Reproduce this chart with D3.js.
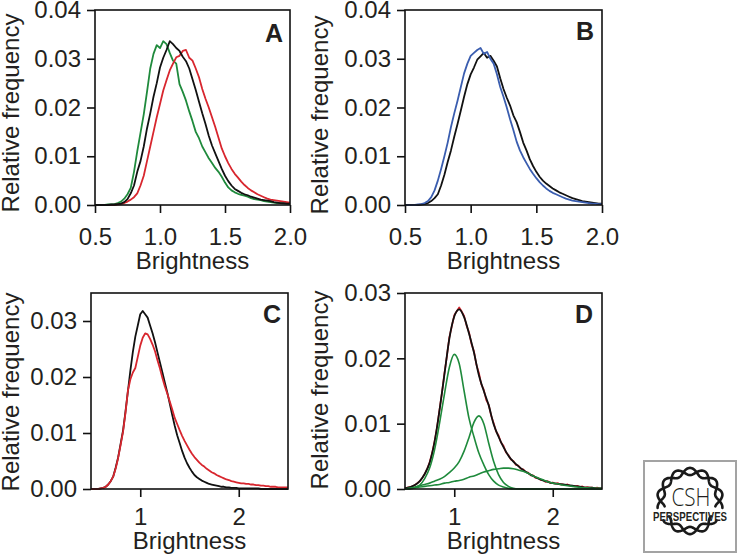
<!DOCTYPE html>
<html>
<head>
<meta charset="utf-8">
<script src="https://cdn.jsdelivr.net/npm/d3@7"></script>
<style>
  html, body { margin: 0; padding: 0; background: #fff; }
  svg { display: block; }
  text { font-family: "Liberation Sans", Arial, Helvetica, sans-serif; fill: #231f20; }
</style>
</head>
<body>
<svg id="chart" width="744" height="559"></svg>
<script>
// ---------------- DATA ----------------
// Bin grids (brightness values)
const binsAB = d3.range(0, 61).map(i => +(0.5 + i * 0.025).toFixed(3));   // 0.5 .. 2.0
const binsCD = d3.range(0, 81).map(i => +(0.5 + i * 0.025).toFixed(3));   // 0.5 .. 2.5
const fitBins = d3.range(0, 41).map(i => +(0.5 + i * 0.05).toFixed(2));   // 0.5 .. 2.5

// Panel A
const aBlack = [0,0,0,0,0.0000,0.0001,0.0001,0.0002,0.0003,0.0006,0.0012,0.0024,0.0040,0.0068,0.0090,0.0120,0.0157,0.0188,0.0222,0.0250,
  0.0282,0.0302,0.0318,0.0336,0.0330,0.0322,0.0316,0.0304,0.0295,0.0280,0.0258,0.0236,0.0212,0.0188,0.0166,0.0142,0.0122,0.0106,0.0090,0.0074,
  0.0060,0.0049,0.0040,0.0033,0.0029,0.0025,0.0022,0.0020,0.0017,0.0015,0.0013,0.0011,0.0010,0.0009,0.0008,0.0006,0.0005,0.0004,0.0004,0.0003,0.0003];
const aRed = [0,0,0,0,0,0,0,0.0001,0.0002,0.0004,0.0007,0.0011,0.0016,0.0024,0.0040,0.0060,0.0090,0.0120,0.0150,0.0180,
  0.0207,0.0235,0.0256,0.0276,0.0290,0.0303,0.0306,0.0316,0.0318,0.0302,0.0296,0.0280,0.0262,0.0238,0.0218,0.0200,0.0180,0.0160,0.0138,0.0116,
  0.0100,0.0086,0.0074,0.0064,0.0056,0.0048,0.0041,0.0035,0.0030,0.0026,0.0022,0.0019,0.0016,0.0013,0.0011,0.0010,0.0009,0.0008,0.0007,0.0006,0.0005];
const aGreen = [0,0,0,0,0.0001,0.0001,0.0002,0.0004,0.0007,0.0013,0.0022,0.0035,0.0068,0.0110,0.0148,0.0186,0.0232,0.0280,0.0310,0.0328,
  0.0322,0.0336,0.0330,0.0312,0.0296,0.0290,0.0248,0.0232,0.0214,0.0192,0.0172,0.0150,0.0137,0.0120,0.0108,0.0096,0.0086,0.0076,0.0068,0.0058,
  0.0046,0.0036,0.0030,0.0026,0.0023,0.0021,0.0019,0.0017,0.0014,0.0012,0.0011,0.0010,0.0008,0.0007,0.0006,0.0005,0.0004,0.0004,0.0003,0.0003,0.0002];

// Panel B
const bBlack = [0,0,0,0,0,0.0001,0.0002,0.0004,0.0008,0.0014,0.0022,0.0040,0.0062,0.0088,0.0112,0.0140,0.0166,0.0194,0.0222,0.0248,
  0.0268,0.0282,0.0298,0.0305,0.0312,0.0302,0.0306,0.0296,0.0284,0.0260,0.0238,0.0220,0.0204,0.0184,0.0170,0.0150,0.0128,0.0112,0.0094,0.0080,
  0.0068,0.0058,0.0050,0.0044,0.0039,0.0034,0.0030,0.0026,0.0023,0.0020,0.0017,0.0014,0.0012,0.0010,0.0008,0.0007,0.0006,0.0005,0.0004,0.0003,0.0003];
const bBlue = [0,0,0,0,0.0001,0.0002,0.0004,0.0008,0.0016,0.0030,0.0050,0.0074,0.0100,0.0128,0.0160,0.0188,0.0214,0.0242,0.0270,0.0290,
  0.0306,0.0312,0.0318,0.0322,0.0310,0.0314,0.0300,0.0290,0.0268,0.0242,0.0222,0.0200,0.0176,0.0154,0.0130,0.0112,0.0098,0.0086,0.0074,0.0064,
  0.0055,0.0047,0.0040,0.0034,0.0029,0.0025,0.0022,0.0019,0.0016,0.0013,0.0011,0.0009,0.0008,0.0007,0.0006,0.0005,0.0004,0.0003,0.0003,0.0002,0.0002];

// Panel C
const cBlack = [0,0,0,0,0.0001,0.0002,0.0004,0.0008,0.0014,0.0022,0.0038,0.0056,0.0080,0.0104,0.0138,0.0175,0.0212,0.0245,0.0272,0.0292,
  0.0312,0.0318,0.0312,0.0306,0.0292,0.0278,0.0262,0.0244,0.0226,0.0208,0.0190,0.0172,0.0152,0.0132,0.0113,0.0096,0.0082,0.0068,0.0056,0.0046,
  0.0038,0.0031,0.0025,0.0021,0.0018,0.0015,0.0013,0.0011,0.0009,0.0008,0.0007,0.0006,0.0005,0.0004,0.0004,0.0003,0.0003,0.0002,0.0002,0.0002,
  0.0001,0.0001,0.0001,0.0001,0.0001,0.0001,0.0001,0.0001,0.0001,0,0,0,0,0,0,0,0,0,0,0,0];
const cRed = [0,0,0,0,0.0001,0.0002,0.0004,0.0008,0.0014,0.0022,0.0036,0.0055,0.0078,0.0102,0.0136,0.0176,0.0196,0.0208,0.0216,0.0236,
  0.0256,0.0270,0.0278,0.0276,0.0268,0.0258,0.0246,0.0230,0.0215,0.0198,0.0183,0.0170,0.0156,0.0142,0.0127,0.0116,0.0105,0.0095,0.0086,0.0078,
  0.0070,0.0063,0.0057,0.0052,0.0047,0.0043,0.0040,0.0036,0.0033,0.0030,0.0028,0.0025,0.0023,0.0021,0.0019,0.0017,0.0016,0.0014,0.0013,0.0012,
  0.0011,0.0010,0.0010,0.0009,0.0009,0.0008,0.0008,0.0007,0.0007,0.0006,0.0006,0.0005,0.0005,0.0004,0.0004,0.0004,0.0003,0.0003,0.0003,0.0003,0.0003];

// Panel D: measured histogram (red), fitted total (black), three fitted components (green)
const dRed = [0.0001,0.0002,0.0003,0.0004,0.0006,0.0009,0.0012,0.0017,0.0023,0.0031,0.0041,0.0055,0.0073,0.0094,0.0121,0.0147,0.0177,0.0203,0.0232,0.0249,
  0.0266,0.0272,0.0278,0.0272,0.0265,0.0250,0.0240,0.0222,0.0211,0.0190,0.0178,0.0160,0.0152,0.0136,0.0129,0.0112,0.0101,0.0088,0.0082,0.0071,
  0.0066,0.0056,0.0052,0.0045,0.0043,0.0037,0.0036,0.0031,0.0030,0.0026,0.0025,0.0021,0.0021,0.0017,0.0017,0.0014,0.0014,0.0011,0.0012,0.0009,
  0.0010,0.0008,0.0009,0.0007,0.0007,0.0006,0.0007,0.0005,0.0005,0.0004,0.0005,0.0003,0.0004,0.0002,0.0003,0.0002,0.0002,0.0001,0.0002,0.0001,0.0001];
const dFit = [0.0001,0.0003,0.0006,0.0012,0.0023,0.0040,0.0072,0.0120,0.0175,0.0230,0.0264,0.0275,0.0263,0.0238,0.0209,0.0174,0.0150,0.0128,0.0099,0.0080,
  0.0064,0.0051,0.0042,0.0035,0.0029,0.0024,0.0020,0.0016,0.0013,0.0011,0.0009,0.0008,0.0007,0.0006,0.0005,0.0004,0.0003,0.0002,0.0002,0.0001,0.0001];
const dComp1 = [0,0,0.0002,0.0006,0.0016,0.0032,0.0060,0.0100,0.0145,0.0186,0.0206,0.0192,0.0150,0.0108,0.0080,0.0055,0.0037,0.0022,0.0012,0.0006,
  0.0003,0.0001,0,0,0,0,0,0,0,0,0,0,0,0,0,0,0,0,0,0,0];
const dComp2 = [0,0.0001,0.0003,0.0005,0.0007,0.0009,0.0012,0.0015,0.0019,0.0025,0.0032,0.0042,0.0058,0.0079,0.0102,0.0112,0.0100,0.0070,0.0042,0.0022,
  0.0010,0.0004,0.0001,0,0,0,0,0,0,0,0,0,0,0,0,0,0,0,0,0,0];
const dComp3 = [0,0.0001,0.0002,0.0003,0.0004,0.0005,0.0006,0.0007,0.0009,0.0010,0.0012,0.0013,0.0015,0.0018,0.0020,0.0023,0.0026,0.0028,0.0030,0.0031,
  0.0032,0.0032,0.0031,0.0029,0.0027,0.0024,0.0020,0.0017,0.0014,0.0011,0.0009,0.0008,0.0006,0.0005,0.0004,0.0003,0.0002,0.0002,0.0001,0.0001,0.0001];

// Tick labels
const yTicksAB = [0, 0.01, 0.02, 0.03, 0.04];
const yTicksC = [0, 0.01, 0.02, 0.03];
const yTicksD = [0, 0.01, 0.02, 0.03];
const xTicksAB = [0.5, 1.0, 1.5, 2.0];
const xTicksCD = [1, 2];

// ---------------- DRAWING ----------------
const COLORS = { black: "#111111", red: "#d8262e", green: "#1f8a3c", blue: "#3a5daf" };
const svg = d3.select("#chart");

function panel(cfg) {
  const x = d3.scaleLinear().domain(cfg.xDomain).range([cfg.left, cfg.right]);
  const y = d3.scaleLinear().domain(cfg.yDomain).range([cfg.bottom, cfg.top]);
  const g = svg.append("g");

  cfg.series.forEach(s => {
    const pts = s.xs.map((v, i) => [v, s.ys[i]]);
    const line = d3.line().x(d => x(d[0])).y(d => y(d[1]))
      .curve(s.smooth ? d3.curveMonotoneX : d3.curveLinear);
    g.append("path").datum(pts)
      .attr("fill", "none").attr("stroke", s.color)
      .attr("stroke-width", s.width || 1.8).attr("stroke-linejoin", "round")
      .attr("d", line);
  });

  g.append("rect").attr("x", cfg.left).attr("y", cfg.top)
    .attr("width", cfg.right - cfg.left).attr("height", cfg.bottom - cfg.top)
    .attr("fill", "none").attr("stroke", "#111").attr("stroke-width", 1.6);

  const yAxis = d3.axisLeft(y).tickValues(cfg.yTicks).tickSize(8).tickPadding(6)
    .tickFormat(d3.format(".2f"));
  const ya = g.append("g").attr("transform", `translate(${cfg.left},0)`).call(yAxis);
  const xAxis = d3.axisBottom(x).tickValues(cfg.xTicks).tickSize(8).tickPadding(cfg.xPad)
    .tickFormat(cfg.xFormat);
  const xa = g.append("g").attr("transform", `translate(0,${cfg.bottom})`).call(xAxis);
  [ya, xa].forEach(a => {
    a.select(".domain").remove();
    a.selectAll(".tick line").attr("stroke", "#111").attr("stroke-width", 1.6);
    a.selectAll(".tick text").attr("font-size", 24).attr("fill", "#231f20")
      .attr("font-family", '"Liberation Sans", Arial, sans-serif');
  });

  g.append("text").attr("x", (cfg.left + cfg.right) / 2).attr("y", cfg.xTitleY)
    .attr("text-anchor", "middle").attr("font-size", 24).text("Brightness");
  g.append("text").attr("transform", `translate(${cfg.yTitleX},${cfg.yTitleMid}) rotate(-90)`)
    .attr("text-anchor", "middle").attr("font-size", 24).text("Relative frequency");

  g.append("text").attr("x", cfg.letterX).attr("y", cfg.letterY)
    .attr("text-anchor", "end").attr("font-size", 25).attr("font-weight", "bold")
    .attr("fill", "#111").text(cfg.letter);
}

panel({
  left: 95, right: 290, top: 10, bottom: 205,
  xDomain: [0.5, 2.0], yDomain: [0, 0.04],
  yTicks: yTicksAB, xTicks: xTicksAB, xFormat: d3.format(".1f"), xPad: 15,
  xTitleY: 269, yTitleX: 19, yTitleMid: 113,
  letter: "A", letterX: 283, letterY: 42,
  series: [
    { xs: binsAB, ys: aGreen, color: COLORS.green },
    { xs: binsAB, ys: aRed, color: COLORS.red },
    { xs: binsAB, ys: aBlack, color: COLORS.black }
  ]
});

panel({
  left: 405, right: 602, top: 10, bottom: 205,
  xDomain: [0.5, 2.0], yDomain: [0, 0.04],
  yTicks: yTicksAB, xTicks: xTicksAB, xFormat: d3.format(".1f"), xPad: 15,
  xTitleY: 269, yTitleX: 328, yTitleMid: 115,
  letter: "B", letterX: 594, letterY: 40,
  series: [
    { xs: binsAB, ys: bBlack, color: COLORS.black },
    { xs: binsAB, ys: bBlue, color: COLORS.blue }
  ]
});

panel({
  left: 91, right: 288, top: 293, bottom: 489,
  xDomain: [0.5, 2.5], yDomain: [0, 0.035],
  yTicks: yTicksC, xTicks: xTicksCD, xFormat: d3.format("d"), xPad: 11,
  xTitleY: 549, yTitleX: 19, yTitleMid: 392,
  letter: "C", letterX: 281, letterY: 323,
  series: [
    { xs: binsCD, ys: cBlack, color: COLORS.black },
    { xs: binsCD, ys: cRed, color: COLORS.red }
  ]
});

panel({
  left: 405, right: 602, top: 293, bottom: 489,
  xDomain: [0.5, 2.5], yDomain: [0, 0.03],
  yTicks: yTicksD, xTicks: xTicksCD, xFormat: d3.format("d"), xPad: 11,
  xTitleY: 549, yTitleX: 328, yTitleMid: 390,
  letter: "D", letterX: 593, letterY: 323,
  series: [
    { xs: binsCD, ys: dRed, color: COLORS.red, width: 1.7 },
    { xs: fitBins, ys: dFit, color: COLORS.black, smooth: true, width: 1.8 },
    { xs: fitBins, ys: dComp1, color: COLORS.green, smooth: true, width: 1.6 },
    { xs: fitBins, ys: dComp2, color: COLORS.green, smooth: true, width: 1.6 },
    { xs: fitBins, ys: dComp3, color: COLORS.green, smooth: true, width: 1.6 }
  ]
});

// ---------------- LOGO (CSH Perspectives) ----------------
(function logo() {
  const g = svg.append("g");
  g.append("rect").attr("x", 644).attr("y", 461).attr("width", 92).attr("height", 91)
    .attr("fill", "#fff").attr("stroke", "#a3a3a3").attr("stroke-width", 2);
  const cx = 690, cy = 501, R = 29.5, amp = 3.6, turns = 7;
  function strand(a0, a1, phase) {
    const n = 140, pts = [];
    for (let i = 0; i <= n; i++) {
      const t = a0 + (a1 - a0) * i / n;
      const r = R + amp * Math.sin(turns * t + phase);
      pts.push([cx + r * Math.cos(t), cy + r * Math.sin(t)]);
    }
    return d3.line()(pts);
  }
  const deg = Math.PI / 180;
  [[168 * deg, 372 * deg], [36 * deg, 144 * deg]].forEach(([a0, a1]) => {
    [0, Math.PI].forEach(ph => {
      g.append("path").attr("d", strand(a0, a1, ph)).attr("fill", "none")
        .attr("stroke", "#1a1a1a").attr("stroke-width", 2.6).attr("stroke-linecap", "round");
    });
  });
  g.append("text").attr("x", 691).attr("y", 506).attr("text-anchor", "middle")
    .attr("font-size", 25).attr("font-weight", 300).attr("fill", "#1a1a1a")
    .attr("textLength", 39).attr("lengthAdjust", "spacingAndGlyphs")
    .style("font-family", '"Open Sans", "Liberation Sans", sans-serif').text("CSH");
  g.append("text").attr("x", 690).attr("y", 521).attr("text-anchor", "middle")
    .attr("font-size", 12).attr("font-weight", "bold").attr("fill", "#c0682c")
    .attr("textLength", 74).attr("lengthAdjust", "spacingAndGlyphs")
    .style("font-family", '"Liberation Sans Narrow", "Liberation Sans", sans-serif').text("PERSPECTIVES");
})();
</script>
</body>
</html>
